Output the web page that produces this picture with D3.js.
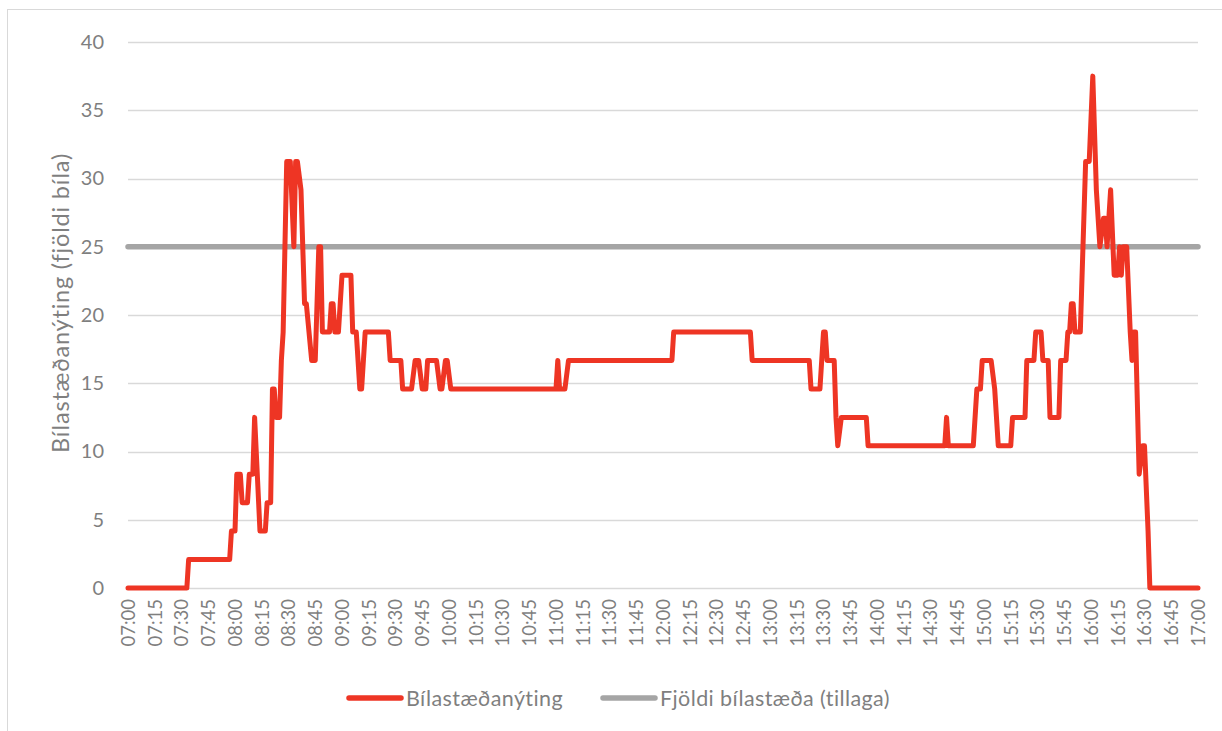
<!DOCTYPE html>
<html>
<head>
<meta charset="utf-8">
<script src="https://d3js.org/d3.v7.min.js"></script>
<style>
	body { margin: 0; background: #fff; }
	text { font-family: Lato, "Open Sans", sans-serif; fill: #7f7f7f; }
</style>
</head>
<body>
<div id="visual"></div>
<script>

///// DATA /////

var tickLabels = ["07:00","07:15","07:30","07:45","08:00","08:15","08:30","08:45","09:00","09:15",
	"09:30","09:45","10:00","10:15","10:30","10:45","11:00","11:15","11:30","11:45",
	"12:00","12:15","12:30","12:45","13:00","13:15","13:30","13:45","14:00","14:15",
	"14:30","14:45","15:00","15:15","15:30","15:45","16:00","16:15","16:30","16:45","17:00"];

var yTicks = [0, 5, 10, 15, 20, 25, 30, 35, 40];

var occTimes = ["07:00","07:33","07:34","07:57","07:58","08:00","08:01","08:03","08:04","08:07",
	"08:08","08:10","08:11","08:14","08:17","08:18","08:20","08:21","08:22","08:23",
	"08:25","08:26","08:27","08:29","08:31","08:33","08:34","08:35","08:37","08:39",
	"08:40","08:43","08:45","08:46","08:47","08:48","08:49","08:53","08:54","08:55",
	"08:56","08:58","08:59","09:00","09:05","09:06","09:08","09:10","09:11","09:13",
	"09:26","09:27","09:33","09:34","09:39","09:41","09:43","09:45","09:47","09:48",
	"09:53","09:55","09:56","09:58","09:59","10:01","11:00","11:01","11:02","11:05",
	"11:07","12:05","12:06","12:49","12:50","13:22","13:23","13:28","13:29","13:30",
	"13:31","13:32","13:36","13:37","13:38","13:40","13:54","13:55","14:38","14:39",
	"14:40","14:54","14:56","14:58","14:59","15:04","15:06","15:08","15:15","15:16",
	"15:23","15:24","15:28","15:29","15:32","15:33","15:36","15:37","15:42","15:43",
	"15:46","15:47","15:48","15:49","15:50","15:51","15:54","15:57","15:59","16:01",
	"16:03","16:05","16:07","16:08","16:09","16:11","16:13","16:15","16:16","16:17",
	"16:18","16:20","16:22","16:23","16:24","16:25","16:27","16:29","16:30","16:32",
	"16:33","17:00"];

var occValues = [0, 0, 2.08, 2.08, 4.17, 4.17, 8.33, 8.33, 6.25, 6.25,
	8.33, 8.33, 12.5, 4.17, 4.17, 6.25, 6.25, 14.58, 14.58, 12.5,
	12.5, 16.67, 18.75, 31.25, 31.25, 25, 31.25, 31.25, 29.17, 20.83,
	20.83, 16.67, 16.67, 20.83, 25, 25, 18.75, 18.75, 20.83, 20.83,
	18.75, 18.75, 20.83, 22.92, 22.92, 18.75, 18.75, 14.58, 14.58, 18.75,
	18.75, 16.67, 16.67, 14.58, 14.58, 16.67, 16.67, 14.58, 14.58, 16.67,
	16.67, 14.58, 14.58, 16.67, 16.67, 14.58, 14.58, 16.67, 14.58, 14.58,
	16.67, 16.67, 18.75, 18.75, 16.67, 16.67, 14.58, 14.58, 16.67, 18.75,
	18.75, 16.67, 16.67, 12.5, 10.42, 12.5, 12.5, 10.42, 10.42, 12.5,
	10.42, 10.42, 14.58, 14.58, 16.67, 16.67, 14.58, 10.42, 10.42, 12.5,
	12.5, 16.67, 16.67, 18.75, 18.75, 16.67, 16.67, 12.5, 12.5, 16.67,
	16.67, 18.75, 18.75, 20.83, 20.83, 18.75, 18.75, 31.25, 31.25, 37.5,
	29.17, 25, 27.08, 27.08, 25, 29.17, 22.92, 22.92, 25, 22.92,
	25, 25, 18.75, 16.67, 18.75, 18.75, 8.33, 10.42, 10.42, 4.17,
	0, 0];

var capTimes = ["07:00", "17:00"];
var capValues = [25, 25];

var legendKeys = ["Bílastæðanýting", "Fjöldi bílastæða (tillaga)"];
var colors = ["#ee3524", "#a5a5a5"];

///// DIMENSIONS /////

var W = 1222, H = 731;
var margins = { left: 128, right: 24, top: 42, bottom: 143 };
var width = W - margins.left - margins.right,
	height = H - margins.top - margins.bottom;

function toMin(s) {
	var p = s.split(":");
	return (+p[0] - 7) * 60 + (+p[1]);
}

var xScale = d3.scaleLinear()
	.domain([toMin(tickLabels[0]), toMin(tickLabels[tickLabels.length - 1])])
	.range([margins.left, margins.left + width]);

var yScale = d3.scaleLinear()
	.domain([0, 40])
	.range([margins.top + height, margins.top]);

///// RENDER /////

var svg = d3.select("#visual").append("svg")
	.attr("width", W)
	.attr("height", H);

// chart border
svg.append("rect")
	.attr("x", 7.5).attr("y", 9.5)
	.attr("width", W + 20).attr("height", H + 20)
	.attr("fill", "none")
	.attr("stroke", "#d9d9d9");

// gridlines
svg.append("g").selectAll("line")
	.data(yTicks).enter().append("line")
	.attr("x1", margins.left).attr("x2", margins.left + width)
	.attr("y1", d => Math.round(yScale(d)) + 0.5)
	.attr("y2", d => Math.round(yScale(d)) + 0.5)
	.attr("stroke", "#d9d9d9")
	.attr("stroke-width", 1.3);

// y axis
var vAxis = d3.axisLeft(yScale).tickValues(yTicks).tickSize(0).tickPadding(24);
var vGuide = svg.append("g")
	.attr("transform", `translate(${margins.left},0)`)
	.call(vAxis);
vGuide.select(".domain").remove();
vGuide.selectAll("text")
	.style("font-size", "20px")
	.style("font-family", "Lato, sans-serif")
	.attr("fill", "#7f7f7f");

// x axis
var hAxis = d3.axisBottom(xScale)
	.tickValues(tickLabels.map(toMin))
	.tickFormat((d, i) => tickLabels[i])
	.tickSize(0);
var hGuide = svg.append("g")
	.attr("transform", `translate(0,${margins.top + height})`)
	.call(hAxis);
hGuide.select(".domain").remove();
hGuide.selectAll("text")
	.style("font-size", "18.5px")
	.style("font-family", "Lato, sans-serif")
	.attr("fill", "#7f7f7f")
	.style("text-anchor", "end")
	.attr("dy", "0.35em")
	.attr("transform", "translate(0,11) rotate(-90)")
	.attr("x", 0).attr("y", 0);

// y axis title
svg.append("text")
	.attr("transform", `translate(61,303) rotate(-90)`)
	.attr("dy", "0.35em")
	.style("text-anchor", "middle")
	.style("font-size", "23.5px")
	.style("letter-spacing", "0.8px")
	.text("Bílastæðanýting (fjöldi bíla)");

///// LINES /////

var line = d3.line()
	.x(d => xScale(toMin(d[0])))
	.y(d => yScale(d[1]));

svg.append("path")
	.datum(capTimes.map((t, i) => [t, capValues[i]]))
	.attr("d", line)
	.attr("fill", "none")
	.attr("stroke", colors[1])
	.attr("stroke-width", 5.5)
	.attr("stroke-linecap", "round");

svg.append("path")
	.datum(occTimes.map((t, i) => [t, occValues[i]]))
	.attr("d", line)
	.attr("fill", "none")
	.attr("stroke", colors[0])
	.attr("stroke-width", 5)
	.attr("stroke-linejoin", "round")
	.attr("stroke-linecap", "round");

///// LEGEND /////

var legendX = [349, 603];
var legend = svg.selectAll(".legend")
	.data(legendKeys).enter().append("g")
	.attr("class", "legend")
	.attr("transform", (d, i) => `translate(${legendX[i]},698)`);

legend.append("line")
	.attr("x1", 0).attr("x2", 52)
	.attr("stroke", (d, i) => colors[i])
	.attr("stroke-width", 5.5)
	.attr("stroke-linecap", "round");

legend.append("text")
	.attr("x", 57)
	.attr("dy", "0.35em")
	.style("font-size", "21.5px")
	.style("letter-spacing", "0.4px")
	.text(d => d);

</script>
</body>
</html>
